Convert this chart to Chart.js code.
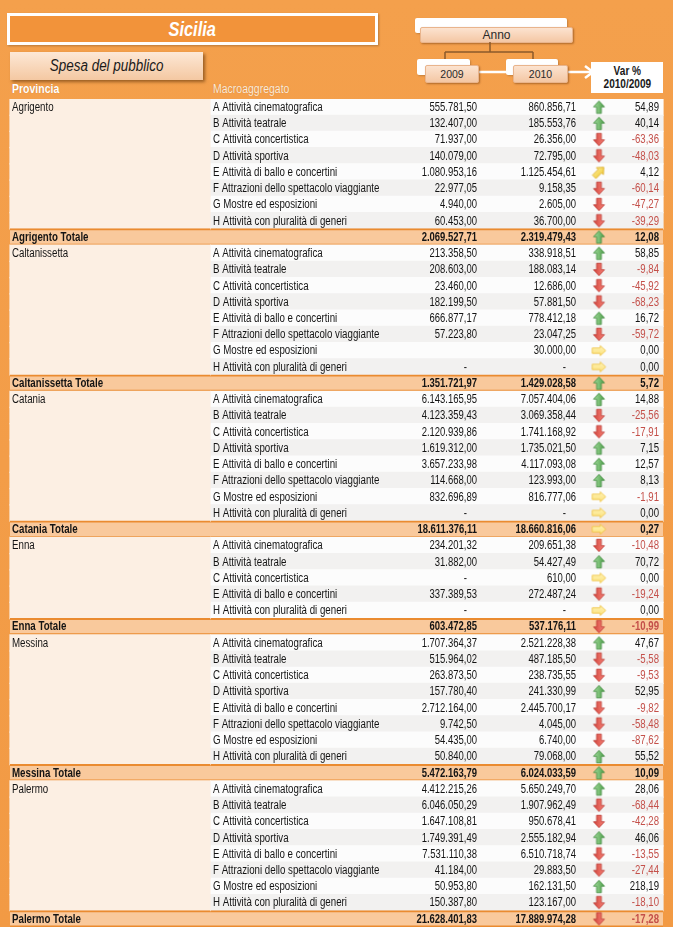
<!DOCTYPE html>
<html lang="it">
<head>
<meta charset="utf-8">
<title>Sicilia - Spesa del pubblico</title>
<script src="https://cdn.jsdelivr.net/npm/chart.js@4.4.1/dist/chart.umd.min.js"></script>
<style>
  html, body { margin: 0; padding: 0; }
  body {
    width: 673px; height: 927px; overflow: hidden; position: relative;
    background: linear-gradient(#f4a04c, #f29a44);
    font-family: "Liberation Sans", Arial, sans-serif;
  }
  .abs { position: absolute; }
  .narrow { display: inline-block; transform: scaleX(0.84); transform-origin: left center; white-space: nowrap; }
  #titolo {
    left: 7px; top: 13px; width: 365px; height: 26px;
    border: 3px solid #fff; background: #f2933a;
    color: #fff; font: italic bold 19.5px "Liberation Sans", Arial, sans-serif;
    line-height: 26px; text-align: center;
    box-shadow: 1px 1px 2px rgba(0,0,0,.25);
  }
  #titolo span { transform-origin: center center; }
  #spesa {
    left: 10px; top: 52px; width: 193px; height: 28px;
    background: linear-gradient(#fde8d6, #f4c8a2);
    box-shadow: 2px 2px 3px rgba(80,40,0,.55);
    color: #1a1a1a; font: italic 16px "Liberation Sans", Arial, sans-serif;
    line-height: 28px; text-align: center;
  }
  #spesa span { transform-origin: center center; }
  .ombra { background: #fff; border-radius: 2px; box-shadow: 1px 1px 2px rgba(0,0,0,.2); }
  .campo {
    background: linear-gradient(#fce3d0, #f4c7a4);
    border: 1px solid #e9b48c; border-radius: 2px;
    box-shadow: 1px 1px 2px rgba(90,40,0,.45);
    color: #2a2a2a; text-align: center;
  }
  #anno { left: 420px; top: 27px; width: 151px; height: 14px; font-size: 12px; line-height: 14px; }
  #a2009 { left: 425px; top: 65px; width: 52px; height: 16px; font-size: 10.5px; line-height: 16px; }
  #a2010 { left: 513px; top: 65px; width: 53px; height: 16px; font-size: 10.5px; line-height: 16px; }
  #varbox {
    left: 591px; top: 62px; width: 72px; height: 31px; background: #fff;
    color: #1a1a1a; font: bold 12px "Liberation Sans", Arial, sans-serif;
    text-align: center; line-height: 13px; padding-top: 3px; box-sizing: border-box;
  }
  .hdr { top: 82px; font-size: 12.5px; line-height: 14px; color: #fff; text-shadow: 0 0 1px rgba(150,70,0,.4); }
  #tabella { position: absolute; left: 0; top: 99px; }
</style>
</head>
<body>

<div id="titolo" class="abs"><span class="narrow">Sicilia</span></div>
<div id="spesa" class="abs"><span class="narrow">Spesa del pubblico</span></div>

<div class="abs ombra" style="left:415px;top:18px;width:152px;height:15px"></div>
<div id="anno" class="abs campo">Anno</div>

<svg class="abs" style="left:0;top:0" width="673" height="99">
  <path d="M490 42 V52 M445 52 H533 M445 52 V60 M533 52 V60" stroke="#8b5a2b" stroke-width="1.5" fill="none"/>
  <path d="M476 72 H514" stroke="#fff" stroke-width="2.5"/>
  <path d="M566 72 H592" stroke="#fff" stroke-width="2.5"/>
  <path d="M585 66 L593 72 L585 78" stroke="#fff" stroke-width="2.5" fill="none"/>
</svg>

<div class="abs ombra" style="left:417px;top:59px;width:53px;height:16px"></div>
<div id="a2009" class="abs campo">2009</div>
<div class="abs ombra" style="left:506px;top:59px;width:52px;height:16px"></div>
<div id="a2010" class="abs campo">2010</div>

<div id="varbox" class="abs"><span class="narrow" style="transform-origin:center center">Var %</span><br><span class="narrow" style="transform-origin:center center">2010/2009</span></div>

<div class="abs hdr" style="left:12px;font-weight:bold"><span class="narrow">Provincia</span></div>
<div class="abs hdr" style="left:213px;color:#fdebd9"><span class="narrow">Macroaggregato</span></div>

<canvas id="tabella" width="673" height="828"></canvas>

<script>
'use strict'

// Dati: spesa del pubblico per provincia e macroaggregato
var province = ['Agrigento', 'Caltanissetta', 'Catania', 'Enna', 'Messina', 'Palermo']

var macroaggregati = [
  'A Attività cinematografica',
  'B Attività teatrale',
  'C Attività concertistica',
  'D Attività sportiva',
  'E Attività di ballo e concertini',
  'F Attrazioni dello spettacolo viaggiante',
  'G Mostre ed esposizioni',
  'H Attività con pluralità di generi'
]

// indici dei macroaggregati presenti per ogni provincia
var macroProvincia = [
  [0, 1, 2, 3, 4, 5, 6, 7],
  [0, 1, 2, 3, 4, 5, 6, 7],
  [0, 1, 2, 3, 4, 5, 6, 7],
  [0, 1, 2, 4, 7],
  [0, 1, 2, 3, 4, 5, 6, 7],
  [0, 1, 2, 3, 4, 5, 6, 7]
]

// null = "-", undefined = cella vuota
var spesa2009 = [
  [555781.50, 132407.00, 71937.00, 140079.00, 1080953.16, 22977.05, 4940.00, 60453.00],
  [213358.50, 208603.00, 23460.00, 182199.50, 666877.17, 57223.80, undefined, null],
  [6143165.95, 4123359.43, 2120939.86, 1619312.00, 3657233.98, 114668.00, 832696.89, null],
  [234201.32, 31882.00, null, 337389.53, null],
  [1707364.37, 515964.02, 263873.50, 157780.40, 2712164.00, 9742.50, 54435.00, 50840.00],
  [4412215.26, 6046050.29, 1647108.81, 1749391.49, 7531110.38, 41184.00, 50953.80, 150387.80]
]

var spesa2010 = [
  [860856.71, 185553.76, 26356.00, 72795.00, 1125454.61, 9158.35, 2605.00, 36700.00],
  [338918.51, 188083.14, 12686.00, 57881.50, 778412.18, 23047.25, 30000.00, null],
  [7057404.06, 3069358.44, 1741168.92, 1735021.50, 4117093.08, 123993.00, 816777.06, null],
  [209651.38, 54427.49, 610.00, 272487.24, null],
  [2521228.38, 487185.50, 238735.55, 241330.99, 2445700.17, 4045.00, 6740.00, 79068.00],
  [5650249.70, 1907962.49, 950678.41, 2555182.94, 6510718.74, 29883.50, 162131.50, 123167.00]
]

var varPerc = [
  [54.89, 40.14, -63.36, -48.03, 4.12, -60.14, -47.27, -39.29],
  [58.85, -9.84, -45.92, -68.23, 16.72, -59.72, 0.00, 0.00],
  [14.88, -25.56, -17.91, 7.15, 12.57, 8.13, -1.91, 0.00],
  [-10.48, 70.72, 0.00, -19.24, 0.00],
  [47.67, -5.58, -9.53, 52.95, -9.82, -58.48, -87.62, 55.52],
  [28.06, -68.44, -42.28, 46.06, -13.55, -27.44, 218.19, -18.10]
]

var totale2009 = [2069527.71, 1351721.97, 18611376.11, 603472.85, 5472163.79, 21628401.83]
var totale2010 = [2319479.43, 1429028.58, 18660816.06, 537176.11, 6024033.59, 17889974.28]
var totaleVar = [12.08, 5.72, 0.27, -10.99, 10.09, -17.28]

// Layout colonne (in px, asse x lineare 0..673)
var COL = { left: 10, mid: 210, right: 663, prov: 12, macro: 213, v09: 477, v10: 576, arrow: 599, pct: 659 }
var PROV_BG = '#fcefe3'
var ROW_BG = ['#fcfcfc', '#f2f1f0']
var TOT_BG = '#f9c99c'
var TOT_LINE = '#ea8b30'
var NEG = '#c4504a'
var TXT = '#141414'
var FONT = '12px "Liberation Sans", Arial, sans-serif'

// righe della tabella
var rows = []
province.forEach(function (p, pi) {
  macroProvincia[pi].forEach(function (m, j) {
    rows.push({
      prov: j === 0 ? p : '', macro: macroaggregati[m],
      v09: spesa2009[pi][j], v10: spesa2010[pi][j], pct: varPerc[pi][j],
      total: false, alt: j % 2
    })
  })
  rows.push({ prov: p + ' Totale', macro: '', v09: totale2009[pi], v10: totale2010[pi], pct: totaleVar[pi], total: true, alt: 0 })
})

function fmtNum(v) {
  var parts = Math.abs(v).toFixed(2).split('.')
  var intPart = parts[0].replace(/\B(?=(\d{3})+(?!\d))/g, '.')
  return (v < 0 ? '-' : '') + intPart + ',' + parts[1]
}

// icone tendenza
function iconFor(v) {
  if (v > 5) return 'up'
  if (v >= 2) return 'upRight'
  if (v >= -5) return 'right'
  return 'down'
}

function makeArrow(angle, light, dark, stroke, len, head, shaft) {
  var c = document.createElement('canvas')
  c.width = 17; c.height = 17
  var g = c.getContext('2d')
  g.translate(8.5, 8.5)
  g.rotate(angle)
  var h = len / 2
  var neck = -h + head + 0.5
  g.beginPath()
  g.moveTo(0, -h)
  g.lineTo(head, neck)
  g.lineTo(shaft, neck)
  g.lineTo(shaft, h)
  g.lineTo(-shaft, h)
  g.lineTo(-shaft, neck)
  g.lineTo(-head, neck)
  g.closePath()
  var grad = g.createLinearGradient(-head, 0, head, 0)
  grad.addColorStop(0, light)
  grad.addColorStop(1, dark)
  g.fillStyle = grad
  g.fill()
  g.lineWidth = 0.8
  g.strokeStyle = stroke
  g.stroke()
  return c
}

var icons = {
  up: makeArrow(0, '#a3dc9d', '#4f9f4b', '#3f8a3c', 12.5, 5.5, 2.4),
  down: makeArrow(Math.PI, '#f7857a', '#d2433b', '#bb3a33', 12.5, 5.5, 2.4),
  right: makeArrow(Math.PI / 2, '#fff4b8', '#fbe07a', '#efc23c', 13.5, 5, 2.7),
  upRight: makeArrow(Math.PI / 4, '#fcea90', '#f1cc3c', '#d9aa20', 13.5, 5, 2.4)
}

function drawText(ctx, txt, x, y, align, color, sx) {
  if (!txt) return
  ctx.save()
  ctx.translate(x, y)
  ctx.scale(sx, 1)
  ctx.textAlign = align
  ctx.textBaseline = 'middle'
  ctx.fillStyle = color
  ctx.fillText(txt, 0, 0)
  ctx.restore()
}

function cellValue(ctx, v, x, y) {
  if (v === undefined) return
  if (v === null) { drawText(ctx, '-', x - 10, y, 'right', TXT, 0.8); return }
  drawText(ctx, fmtNum(v), x, y, 'right', TXT, 0.79)
}

// Plugin per i testi delle celle
var tableText = {
  id: 'tableText',
  afterDatasetsDraw: function (chart) {
    var ctx = chart.ctx
    var sx = chart.scales.x
    var sy = chart.scales.y
    rows.forEach(function (r, i) {
      var y = sy.getPixelForValue(i) + 0.5
      ctx.font = (r.total ? 'bold ' : '') + FONT
      drawText(ctx, r.prov, sx.getPixelForValue(COL.prov), y, 'left', TXT, 0.81)
      drawText(ctx, r.macro, sx.getPixelForValue(COL.macro), y, 'left', TXT, 0.81)
      cellValue(ctx, r.v09, sx.getPixelForValue(COL.v09), y)
      cellValue(ctx, r.v10, sx.getPixelForValue(COL.v10), y)
      drawText(ctx, fmtNum(r.pct), sx.getPixelForValue(COL.pct), y, 'right', r.pct < 0 ? NEG : TXT, 0.8)
    })
  }
}

function rowOf(ctx) { return rows[ctx.dataIndex] || rows[0] }

var totBorder = function (ctx) {
  return rowOf(ctx).total ? { top: 2, bottom: 2, left: 0, right: 0 } : 0
}

new Chart(document.getElementById('tabella'), {
  type: 'bar',
  data: {
    labels: rows.map(function (r, i) { return String(i) }),
    datasets: [
      {
        type: 'scatter',
        label: 'Tendenza',
        data: rows.map(function (r, i) { return { x: COL.arrow, y: String(i) } }),
        pointStyle: function (ctx) { return icons[iconFor(rowOf(ctx).pct)] },
        pointRadius: 5,
        order: 0
      },
      {
        label: 'Provincia',
        data: rows.map(function () { return [COL.left, COL.mid] }),
        backgroundColor: function (ctx) { return rowOf(ctx).total ? TOT_BG : PROV_BG },
        borderColor: TOT_LINE,
        borderWidth: totBorder,
        borderSkipped: false,
        inflateAmount: 0.6,
        grouped: false,
        barPercentage: 1,
        categoryPercentage: 1,
        order: 1
      },
      {
        label: 'Valori',
        data: rows.map(function () { return [COL.mid, COL.right] }),
        backgroundColor: function (ctx) { var r = rowOf(ctx); return r.total ? TOT_BG : ROW_BG[r.alt] },
        borderColor: TOT_LINE,
        borderWidth: totBorder,
        borderSkipped: false,
        inflateAmount: 0.6,
        grouped: false,
        barPercentage: 1,
        categoryPercentage: 1,
        order: 1
      }
    ]
  },
  options: {
    indexAxis: 'y',
    responsive: false,
    devicePixelRatio: 1,
    animation: false,
    layout: { padding: 0, autoPadding: false },
    plugins: {
      legend: { display: false },
      tooltip: { enabled: false }
    },
    scales: {
      x: { type: 'linear', min: 0, max: 673, display: false },
      y: { type: 'category', offset: true, display: false, grid: { display: false } }
    }
  },
  plugins: [tableText]
})
</script>
</body>
</html>
